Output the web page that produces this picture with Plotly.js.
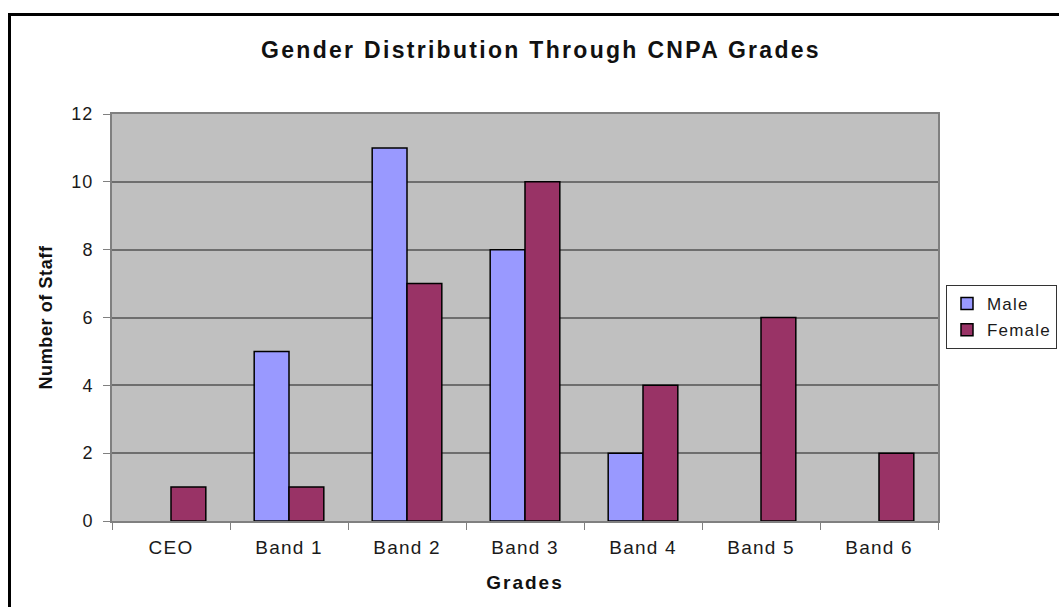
<!DOCTYPE html>
<html>
<head>
<meta charset="utf-8">
<script src="https://cdn.plot.ly/plotly-3.0.1.min.js"></script>
<style>
  html, body { margin: 0; padding: 0; background: #ffffff; }
  #chart { width: 1059px; height: 607px; }
  .gtitle { letter-spacing: 2.3px; }
  .xtitle { letter-spacing: 2px; }
  .ytitle { letter-spacing: 0.6px; }
  .xtick text { letter-spacing: 1.2px; }
  .ytick text { letter-spacing: 1px; }
  .legendtext { letter-spacing: 1.2px; }
</style>
</head>
<body>
<div id="chart"></div>
<script>
const categories = ["CEO", "Band 1", "Band 2", "Band 3", "Band 4", "Band 5", "Band 6"];
const maleValues = [0, 5, 11, 8, 2, 0, 0];
const femaleValues = [1, 1, 7, 10, 4, 6, 2];
const yTickValues = [0, 2, 4, 6, 8, 10, 12];

const W = 1059, H = 607;
const mL = 112, mR = 121, mT = 114, mB = 86;
const pw = W - mL - mR, ph = H - mT - mB;

// empty (zero) bars are not drawn in the reference, so no outline either
const shown = vals => vals.map(v => (v === 0 ? null : v));

const traces = [
  {
    type: "bar", name: "Male", x: categories, y: shown(maleValues),
    legendgroup: "m",
    marker: { color: "#9999ff", line: { color: "#000000", width: 1.5 } },
    hoverinfo: "x+y+name"
  },
  {
    type: "bar", name: "Female", x: categories, y: shown(femaleValues),
    legendgroup: "f",
    marker: { color: "#993366", line: { color: "#000000", width: 1.5 } },
    hoverinfo: "x+y+name"
  }
];

const layout = {
  width: W, height: H,
  margin: { l: mL, r: mR, t: mT, b: mB, autoexpand: false },
  paper_bgcolor: "#ffffff",
  plot_bgcolor: "#c0c0c0",
  barmode: "group",
  bargap: 0.41,
  bargroupgap: 0,
  font: { family: "Liberation Sans, Arial, sans-serif", color: "#1a1a1a" },
  title: {
    text: "<b>Gender Distribution Through CNPA Grades</b>",
    font: { size: 23, color: "#111111", family: "Liberation Sans, Arial, sans-serif" },
    x: 541 / W, xref: "container", xanchor: "center",
    y: 1 - 50 / H, yref: "container", yanchor: "middle"
  },
  xaxis: {
    type: "category",
    categoryorder: "array", categoryarray: categories,
    tickson: "boundaries",
    ticks: "outside", ticklen: 7, tickwidth: 1, tickcolor: "#808080",
    ticklabelstandoff: 8,
    showgrid: false, zeroline: false,
    showline: true, linecolor: "#808080", linewidth: 2, mirror: true,
    tickfont: { size: 19, color: "#1a1a1a" },
    title: { text: "<b>Grades</b>", font: { size: 19, color: "#111111" }, standoff: 19 },
    automargin: false, fixedrange: true
  },
  yaxis: {
    range: [0, 12],
    tickvals: yTickValues,
    ticktext: yTickValues.map(String),
    ticks: "outside", ticklen: 7, tickwidth: 1, tickcolor: "#808080",
    ticklabelstandoff: 6,
    showgrid: true, gridcolor: "#6e6e6e", gridwidth: 1.5,
    zeroline: false,
    showline: true, linecolor: "#808080", linewidth: 2, mirror: true,
    tickfont: { size: 18, color: "#1a1a1a" },
    title: { text: "<b>Number of Staff</b>", font: { size: 18, color: "#111111" }, standoff: 14 },
    automargin: false, fixedrange: true
  },
  showlegend: true,
  legend: {
    x: (946 - mL) / pw, xanchor: "left",
    y: 1 - (285 - mT) / ph, yanchor: "top",
    bgcolor: "#ffffff", bordercolor: "#333333", borderwidth: 1,
    font: { size: 17, color: "#1a1a1a" },
    traceorder: "grouped", tracegroupgap: 1,
    itemclick: false, itemdoubleclick: false
  },
  shapes: [
    {
      type: "rect", xref: "paper", yref: "paper",
      x0: (9.5 - mL) / pw, x1: (W + 20 - mL) / pw,
      y0: 1 - (H + 20 - mT) / ph, y1: 1 - (14.5 - mT) / ph,
      line: { color: "#000000", width: 3 },
      fillcolor: "rgba(0,0,0,0)", layer: "below"
    }
  ]
};

Plotly.newPlot("chart", traces, layout, { displayModeBar: false, staticPlot: false, responsive: false });
</script>
</body>
</html>
